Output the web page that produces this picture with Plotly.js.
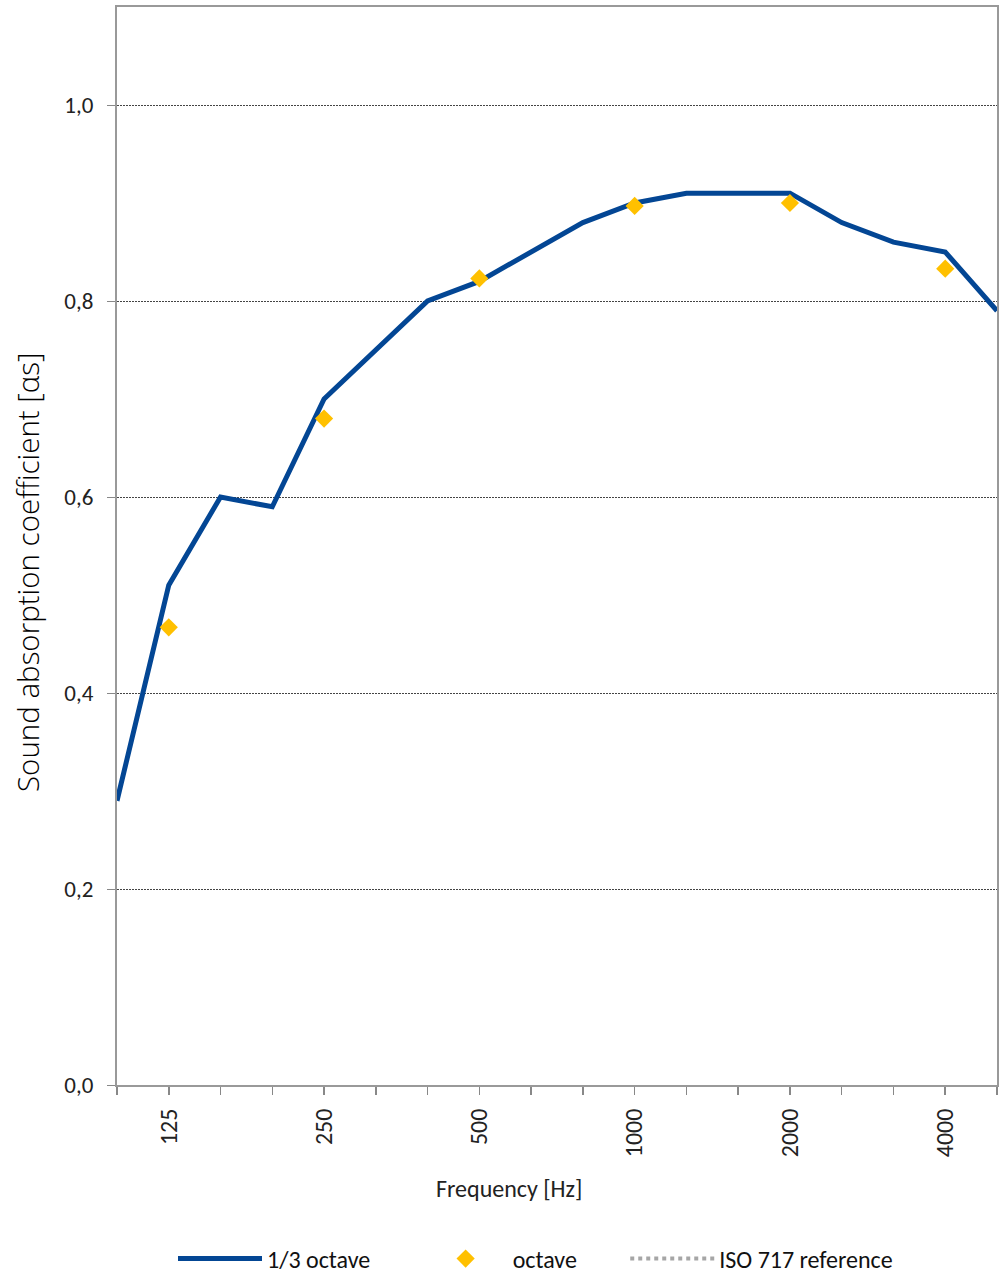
<!DOCTYPE html>
<html>
<head>
<meta charset="utf-8">
<script src="https://cdn.plot.ly/plotly-3.0.1.min.js"></script>
<style>html,body{margin:0;padding:0;background:#fff;}#chart{width:1002px;height:1274px;}</style>
</head>
<body>
<div id="chart"></div>
<script>
// 1/3 octave band centre frequencies (Hz)
const bands = ["100","125","160","200","250","315","400","500","630","800","1000","1250","1600","2000","2500","3150","4000","5000"];
// 1/3 octave sound absorption values
const thirdOctave = [0.29,0.51,0.60,0.59,0.70,0.75,0.80,0.82,0.85,0.88,0.90,0.91,0.91,0.91,0.88,0.86,0.85,0.79];
// octave bands and values
const octaveBands = ["125","250","500","1000","2000","4000"];
const octaveValues = [0.467,0.68,0.823,0.897,0.90,0.833];
// ISO 717 reference (not plotted in source)
const isoRef = [null];
// tick labels shown on the frequency axis
const labelledBands = ["125","250","500","1000","2000","4000"];
const yTicks = [0,0.2,0.4,0.6,0.8,1.0];

const idx = bands.map((b,i)=>i);
const octIdx = octaveBands.map(b=>bands.indexOf(b));
const tickText = bands.map(b => labelledBands.includes(b) ? b : "");

const font = "Carlito, Open Sans, Lato, sans-serif";
const pad = "\u00a0".repeat(8);

const traces = [
  {x: idx, y: thirdOctave, type:'scatter', mode:'lines', name:'1/3 octave' + pad,
   line:{color:'#034694', width:5}, hoverinfo:'skip'},
  {x: octIdx, y: octaveValues, type:'scatter', mode:'markers', name:'octave' + pad,
   marker:{symbol:'diamond', color:'#FFC000', size:14}},
  {x: [null], y: isoRef, type:'scatter', mode:'lines', name:'ISO 717 reference',
   line:{color:'#A6A6A6', width:4, dash:'dot'}}
];

const layout = {
  width:1002, height:1274,
  margin:{l:117, r:5, t:7, b:189, autoexpand:false},
  paper_bgcolor:'#fff', plot_bgcolor:'#fff',
  separators:',.',
  font:{family:font, color:'#1a1a1a', size:18},
  showlegend:true,
  legend:{orientation:'h', xref:'container', yref:'container', x:173/1002, xanchor:'left',
          y:1-1259/1274, yanchor:'middle',
          font:{size:24, family:font, color:'#111'}, itemwidth:84, traceorder:'normal'},
  xaxis:{
    range:[0,17], tickmode:'array', tickvals:idx, ticktext:tickText,
    tickangle:-90, ticks:'outside', ticklen:8, tickcolor:'#888', tickwidth:1.5,
    ticklabelstandoff:4,
    showline:true, linecolor:'#999', linewidth:2, mirror:true,
    showgrid:false, zeroline:false, automargin:false,
    tickfont:{size:24, family:font, color:'#222'},
    title:{text:''}
  },
  yaxis:{
    range:[0,1.1], tickmode:'array', tickvals:yTicks,
    tickformat:'.1f', ticks:'outside', ticklen:8, tickcolor:'#888',
    ticklabelstandoff:9,
    showline:true, linecolor:'#999', linewidth:2, mirror:true,
    showgrid:true, gridcolor:'#444', gridwidth:1, griddash:'2px,1px',
    zeroline:false, automargin:false,
    tickfont:{size:23, family:font, color:'#222'},
    title:{text:''}
  },
  annotations:[
    {text:'Frequency [Hz]', xref:'paper', yref:'paper', x:(509-117)/880, y:(1085-1188)/1078,
     xanchor:'center', yanchor:'middle', showarrow:false, font:{size:24, family:font, color:'#222'}},
    {text:'Sound absorption coefficient [αs]', xref:'paper', yref:'paper', x:(28-117)/880, y:(1085-573)/1078,
     xanchor:'center', yanchor:'middle', textangle:-90, showarrow:false,
     font:{size:29.5, family:'Open Sans, sans-serif', weight:300, color:'#000'}}
  ]
};

Plotly.newPlot('chart', traces, layout, {displayModeBar:false, staticPlot:true});
</script>
</body>
</html>
